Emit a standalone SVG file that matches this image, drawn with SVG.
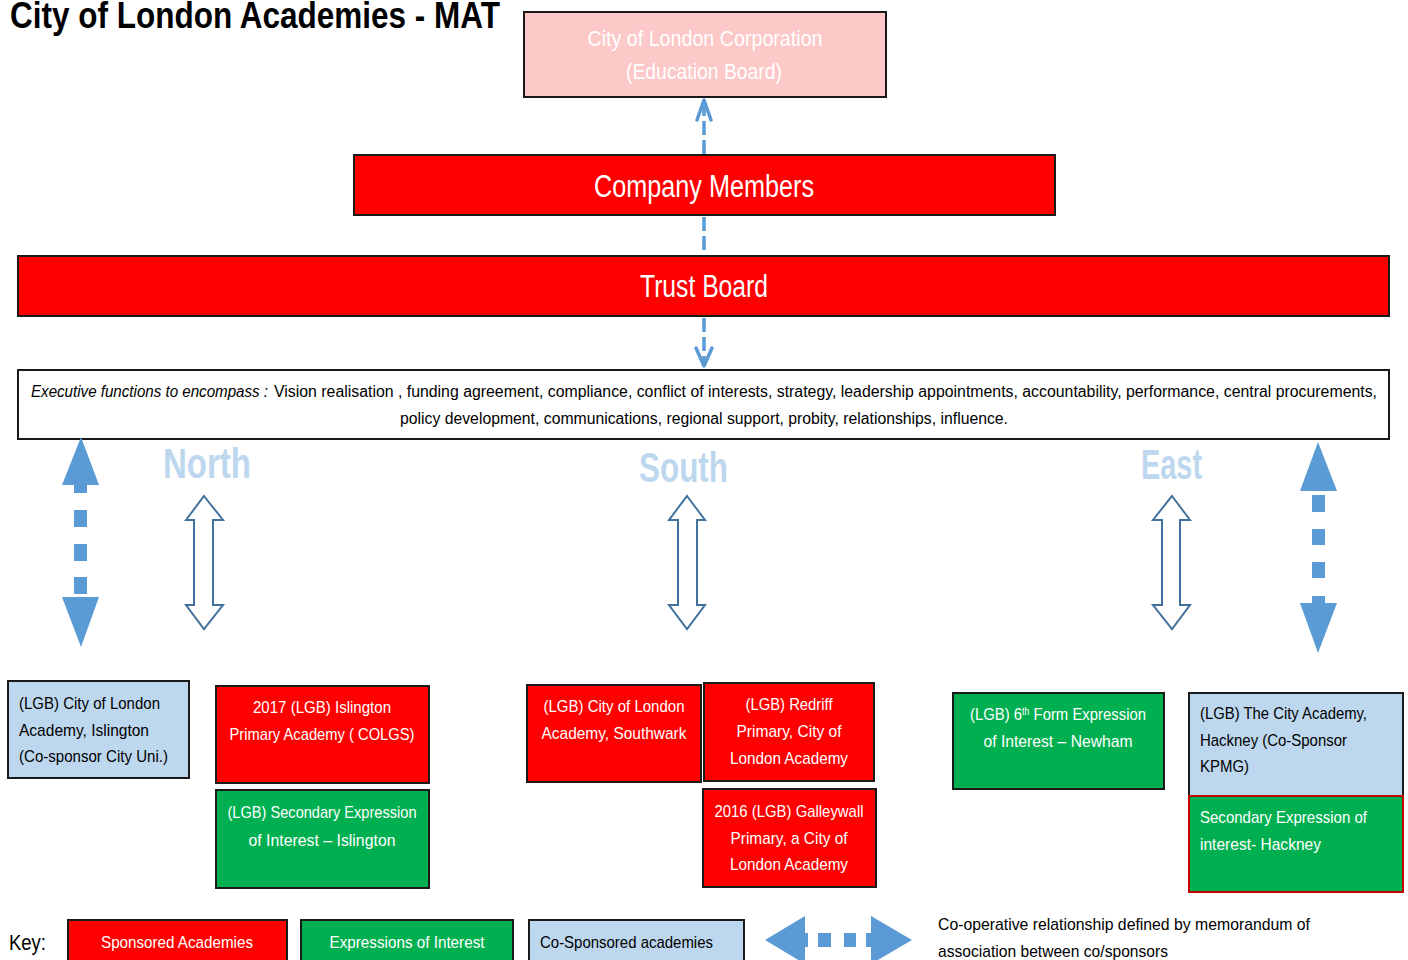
<svg xmlns="http://www.w3.org/2000/svg" width="1408" height="960" viewBox="0 0 1408 960">
<style>
text{font-family:"Liberation Sans",Arial,sans-serif;}
.box{stroke:#1a1a1a;stroke-width:2;}
.red{fill:#FF0000;}
.green{fill:#00B050;}
.blue{fill:#BDD7EE;}
.pink{fill:#FCC8C8;}
.w{fill:#ffffff;}
.k{fill:#000000;}
.t{font-size:17px;}
.c{text-anchor:middle;}
.big{font-size:31px;fill:#fff;text-anchor:middle;}
.region{font-size:42px;font-weight:bold;fill:#BDD7EE;}
.dash{stroke:#5B9BD5;stroke-width:3.5;fill:none;stroke-dasharray:14 5;}
.chev{stroke:#5B9BD5;stroke-width:3.5;fill:none;stroke-linecap:round;stroke-linejoin:round;}
.solidblue{fill:#5B9BD5;}
.outline{fill:#ffffff;stroke:#41719C;stroke-width:2;}
</style>

<text x="10" y="28" font-size="37" font-weight="bold" fill="#000" textLength="490" lengthAdjust="spacingAndGlyphs">City of London Academies - MAT</text>

<g id="corporation">
<rect class="box pink" x="524" y="12" width="362" height="85"/>
<text class="w c" x="705" y="46" font-size="22" textLength="235" lengthAdjust="spacingAndGlyphs">City of London Corporation</text>
<text class="w c" x="704" y="79" font-size="22" textLength="156" lengthAdjust="spacingAndGlyphs">(Education Board)</text>
</g>

<g id="company-members">
<rect class="box red" x="354" y="155" width="701" height="60"/>
<text class="big" x="704" y="197" textLength="220" lengthAdjust="spacingAndGlyphs">Company Members</text>
</g>

<g id="trust-board">
<rect class="box red" x="18" y="256" width="1371" height="60"/>
<text class="big" x="704" y="297" textLength="128" lengthAdjust="spacingAndGlyphs">Trust Board</text>
</g>

<g id="executive-functions">
<rect class="box" fill="#fff" x="18" y="370" width="1371" height="69"/>
<text class="k" x="31" y="397" font-size="16" font-style="italic" textLength="237" lengthAdjust="spacingAndGlyphs">Executive functions to encompass :</text>
<text class="k" x="274" y="397" font-size="16" textLength="1103" lengthAdjust="spacingAndGlyphs">Vision realisation ,  funding agreement, compliance, conflict of interests, strategy, leadership appointments, accountability,  performance, central procurements,</text>
<text class="k" x="400" y="424" font-size="16" textLength="608" lengthAdjust="spacingAndGlyphs">policy development, communications, regional support, probity, relationships, influence.</text>
</g>

<g id="region-labels">
<text class="region" x="163" y="478" textLength="88" lengthAdjust="spacingAndGlyphs">North</text>
<text class="region" x="639" y="482" textLength="89" lengthAdjust="spacingAndGlyphs">South</text>
<text class="region" x="1141" y="479" textLength="61" lengthAdjust="spacingAndGlyphs">East</text>
</g>

<g id="connectors">
<line class="dash" x1="704" y1="154" x2="704" y2="104"/>
<polyline class="chev" points="697,120 704,100 711,120"/>
<line class="dash" x1="704" y1="217" x2="704" y2="255"/>
<line class="dash" x1="704" y1="318" x2="704" y2="362"/>
<polyline class="chev" points="696,348 704,366 712,348"/>

<g id="coop-left">
<polygon class="solidblue" points="81,437 99,485 87,485 87,493 74,493 74,485 62,485"/>
<rect class="solidblue" x="74" y="510" width="13" height="17"/>
<rect class="solidblue" x="74" y="544" width="13" height="17"/>
<rect class="solidblue" x="74" y="577" width="13" height="17"/>
<polygon class="solidblue" points="62,597 99,597 81,647"/>
</g>
<g id="coop-right">
<polygon class="solidblue" points="1318,442 1337,491 1300,491"/>
<rect class="solidblue" x="1312" y="495" width="13" height="17"/>
<rect class="solidblue" x="1312" y="529" width="13" height="16"/>
<rect class="solidblue" x="1312" y="562" width="13" height="16"/>
<polygon class="solidblue" points="1312,596 1325,596 1325,603 1337,603 1318,653 1300,603 1312,603"/>
</g>

<polygon class="outline" points="204,496 223,520 213,520 213,605 223,605 204,629 186,605 194,605 194,520 186,520"/>
<polygon class="outline" points="687,496 705,520 697,520 697,605 705,605 687,629 669,605 678,605 678,520 669,520"/>
<polygon class="outline" points="1172,496 1190,520 1180,520 1180,605 1190,605 1172,629 1153,605 1162,605 1162,520 1153,520"/>
</g>

<g id="islington-academy">
<rect class="box blue" x="8" y="681" width="181" height="97"/>
<text class="k t" x="19" y="709" textLength="141" lengthAdjust="spacingAndGlyphs">(LGB) City of London</text>
<text class="k t" x="19" y="736" textLength="130" lengthAdjust="spacingAndGlyphs">Academy, Islington</text>
<text class="k t" x="19" y="762" textLength="149" lengthAdjust="spacingAndGlyphs">(Co-sponsor City Uni.)</text>
</g>

<g id="islington-primary">
<rect class="box red" x="216" y="686" width="213" height="97"/>
<text class="w t c" x="322" y="713" textLength="138" lengthAdjust="spacingAndGlyphs">2017 (LGB) Islington</text>
<text class="w t c" x="322" y="740" textLength="185" lengthAdjust="spacingAndGlyphs">Primary Academy ( COLGS)</text>
</g>

<g id="islington-secondary-eoi">
<rect class="box green" x="216" y="790" width="213" height="98"/>
<text class="w t c" x="322" y="818" textLength="189" lengthAdjust="spacingAndGlyphs">(LGB) Secondary Expression</text>
<text class="w t c" x="322" y="846" textLength="147" lengthAdjust="spacingAndGlyphs">of Interest – Islington</text>
</g>

<g id="southwark-academy">
<rect class="box red" x="527" y="685" width="174" height="97"/>
<text class="w t c" x="614" y="712" textLength="141" lengthAdjust="spacingAndGlyphs">(LGB) City of London</text>
<text class="w t c" x="614" y="739" textLength="145" lengthAdjust="spacingAndGlyphs">Academy, Southwark</text>
</g>

<g id="redriff-primary">
<rect class="box red" x="704" y="683" width="170" height="98"/>
<text class="w t c" x="789" y="710" textLength="87" lengthAdjust="spacingAndGlyphs">(LGB) Redriff</text>
<text class="w t c" x="789" y="737" textLength="105" lengthAdjust="spacingAndGlyphs">Primary, City of</text>
<text class="w t c" x="789" y="764" textLength="118" lengthAdjust="spacingAndGlyphs">London Academy</text>
</g>

<g id="galleywall-primary">
<rect class="box red" x="703" y="789" width="173" height="98"/>
<text class="w t c" x="789" y="817" textLength="149" lengthAdjust="spacingAndGlyphs">2016 (LGB) Galleywall</text>
<text class="w t c" x="789" y="844" textLength="117" lengthAdjust="spacingAndGlyphs">Primary, a City of</text>
<text class="w t c" x="789" y="870" textLength="118" lengthAdjust="spacingAndGlyphs">London Academy</text>
</g>

<g id="newham-eoi">
<rect class="box green" x="953" y="693" width="211" height="96"/>
<text class="w t" x="970" y="720" textLength="176" lengthAdjust="spacingAndGlyphs">(LGB) 6<tspan font-size="10" baseline-shift="super">th</tspan> Form Expression</text>
<text class="w t c" x="1058" y="747" textLength="149" lengthAdjust="spacingAndGlyphs">of Interest – Newham</text>
</g>

<g id="hackney-academy">
<rect class="box blue" x="1189" y="693" width="214" height="103"/>
<text class="k t" x="1200" y="719" textLength="167" lengthAdjust="spacingAndGlyphs">(LGB) The City Academy,</text>
<text class="k t" x="1200" y="746" textLength="147" lengthAdjust="spacingAndGlyphs">Hackney (Co-Sponsor</text>
<text class="k t" x="1200" y="772" textLength="49" lengthAdjust="spacingAndGlyphs">KPMG)</text>
</g>

<g id="hackney-secondary-eoi">
<rect class="green" x="1189" y="796" width="214" height="96" stroke="#C00000" stroke-width="2"/>
<text class="w t" x="1200" y="823" textLength="167" lengthAdjust="spacingAndGlyphs">Secondary Expression of</text>
<text class="w t" x="1200" y="850" textLength="121" lengthAdjust="spacingAndGlyphs">interest- Hackney</text>
</g>

<g id="key">
<text class="k" x="9" y="950" font-size="22" textLength="37" lengthAdjust="spacingAndGlyphs">Key:</text>
<rect class="box red" x="68" y="920" width="219" height="50"/>
<text class="w t c" x="177" y="948" textLength="152" lengthAdjust="spacingAndGlyphs">Sponsored Academies</text>
<rect class="box green" x="301" y="920" width="212" height="50"/>
<text class="w t c" x="407" y="948" textLength="155" lengthAdjust="spacingAndGlyphs">Expressions of Interest</text>
<rect class="box blue" x="529" y="920" width="215" height="50"/>
<text class="k t" x="540" y="948" textLength="173" lengthAdjust="spacingAndGlyphs">Co-Sponsored academies</text>
<g id="key-arrow">
<polygon class="solidblue" points="765,940 805,916 805,964"/>
<rect class="solidblue" x="805" y="933" width="3" height="14"/>
<rect class="solidblue" x="818" y="933" width="13" height="14"/>
<rect class="solidblue" x="844" y="933" width="12" height="14"/>
<rect class="solidblue" x="866" y="933" width="5" height="14"/>
<polygon class="solidblue" points="912,940 871,916 871,964"/>
</g>
<text class="k t" x="938" y="930" textLength="372" lengthAdjust="spacingAndGlyphs">Co-operative relationship defined by memorandum of</text>
<text class="k t" x="938" y="957" textLength="230" lengthAdjust="spacingAndGlyphs">association between co/sponsors</text>
</g>
</svg>
